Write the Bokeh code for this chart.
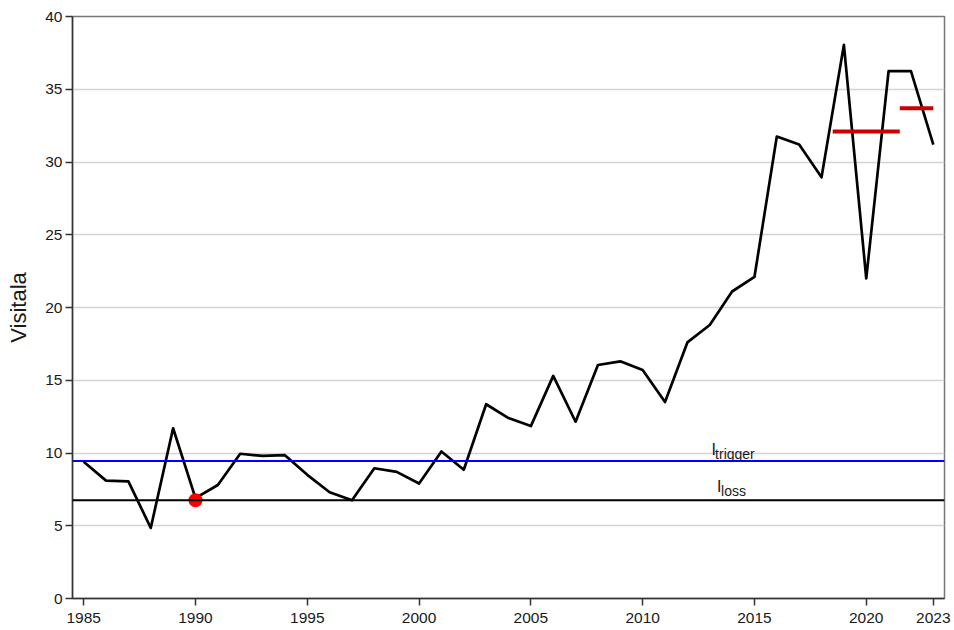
from bokeh.plotting import figure
from bokeh.models import ColumnDataSource, FixedTicker, Span
from bokeh.core.properties import value
from bokeh.embed import file_html
from bokeh.resources import INLINE

# ---- data ----
years = list(range(1985, 2024))
index_values = [9.4, 8.1, 8.05, 4.85, 11.7, 6.9, 7.8, 9.95, 9.8, 9.85,
                8.5, 7.3, 6.75, 8.95, 8.7, 7.9, 10.1, 8.85, 13.35, 12.4,
                11.85, 15.3, 12.15, 16.05, 16.3, 15.7, 13.5, 17.6, 18.8, 21.1,
                22.1, 31.75, 31.2, 28.95, 38.05, 22.0, 36.25, 36.25, 31.2]
i_trigger = 9.45
i_loss = 6.75
i_loss_year = 1990
avg_x0 = [2018.5, 2021.5]
avg_x1 = [2021.5, 2023.0]
avg_y = [32.1, 33.7]
x_ticks = [1985, 1990, 1995, 2000, 2005, 2010, 2015, 2020, 2023]
y_ticks = [0, 5, 10, 15, 20, 25, 30, 35, 40]
label_year = 2014

FONT = "Liberation Sans"

p = figure(width=954, height=630, output_backend="svg", toolbar_location=None,
           x_range=(1984.5, 2023.5), y_range=(0, 40),
           min_border_left=72, min_border_right=10, min_border_top=16,
           min_border_bottom=32)

p.background_fill_color = "white"
p.border_fill_color = "white"
p.outline_line_color = "#777777"
p.outline_line_width = 1.5

# grid
p.xgrid.grid_line_color = None
p.ygrid.grid_line_color = "#d4d4d4"
p.ygrid.grid_line_width = 1.5
p.ygrid.ticker = FixedTicker(ticks=y_ticks)

# axes
for ax in (p.xaxis[0], p.yaxis[0]):
    ax.axis_line_color = "#333333"
    ax.axis_line_width = 1.5
    ax.major_tick_line_color = "#333333"
    ax.major_tick_line_width = 1.5
    ax.major_tick_in = 0
    ax.major_tick_out = 7
    ax.minor_tick_line_color = None
    ax.major_label_text_font = FONT
    ax.major_label_text_font_size = "15.5px"
    ax.major_label_text_color = "#1a1a1a"

p.xaxis[0].ticker = FixedTicker(ticks=x_ticks)
p.xaxis[0].major_label_standoff = 7
p.yaxis[0].ticker = FixedTicker(ticks=y_ticks)
p.yaxis[0].major_label_standoff = 3
p.yaxis[0].axis_label = "Visitala"
p.yaxis[0].axis_label_text_font = FONT
p.yaxis[0].axis_label_text_font_size = "22px"
p.yaxis[0].axis_label_text_font_style = "normal"
p.yaxis[0].axis_label_text_color = "#1a1a1a"
p.yaxis[0].axis_label_standoff = 11

# reference lines
p.add_layout(Span(location=i_trigger, dimension="width", line_color="#0000ff", line_width=2))
p.add_layout(Span(location=i_loss, dimension="width", line_color="black", line_width=2))

# index series
src = ColumnDataSource(dict(x=years, y=index_values))
p.line("x", "y", source=src, line_color="black", line_width=2.7, line_join="round")

# averages
p.segment(x0=avg_x0, y0=avg_y, x1=avg_x1, y1=avg_y, line_color="#cc0000", line_width=4)

# Iloss point
p.scatter(x=[i_loss_year], y=[i_loss], size=14, fill_color="#ff0000", line_color=None)

# labels with subscripts
p.text(x=[label_year], y=[i_trigger], text=["I"], text_font=value(FONT),
       text_font_size="16px", text_color="#1a1a1a", text_align="left",
       text_baseline="alphabetic", x_offset=-20.5, y_offset=-11.5)
p.text(x=[label_year], y=[i_trigger], text=["trigger"], text_font=value(FONT),
       text_font_size="14px", text_color="#1a1a1a", text_align="left",
       text_baseline="alphabetic", x_offset=-17, y_offset=-7.5)
p.text(x=[label_year], y=[i_loss], text=["I"], text_font=value(FONT),
       text_font_size="16px", text_color="#1a1a1a", text_align="left",
       text_baseline="alphabetic", x_offset=-15, y_offset=-13.5)
p.text(x=[label_year], y=[i_loss], text=["loss"], text_font=value(FONT),
       text_font_size="14px", text_color="#1a1a1a", text_align="left",
       text_baseline="alphabetic", x_offset=-11, y_offset=-9.5)

open("out.html", "w").write(file_html(p, INLINE))
